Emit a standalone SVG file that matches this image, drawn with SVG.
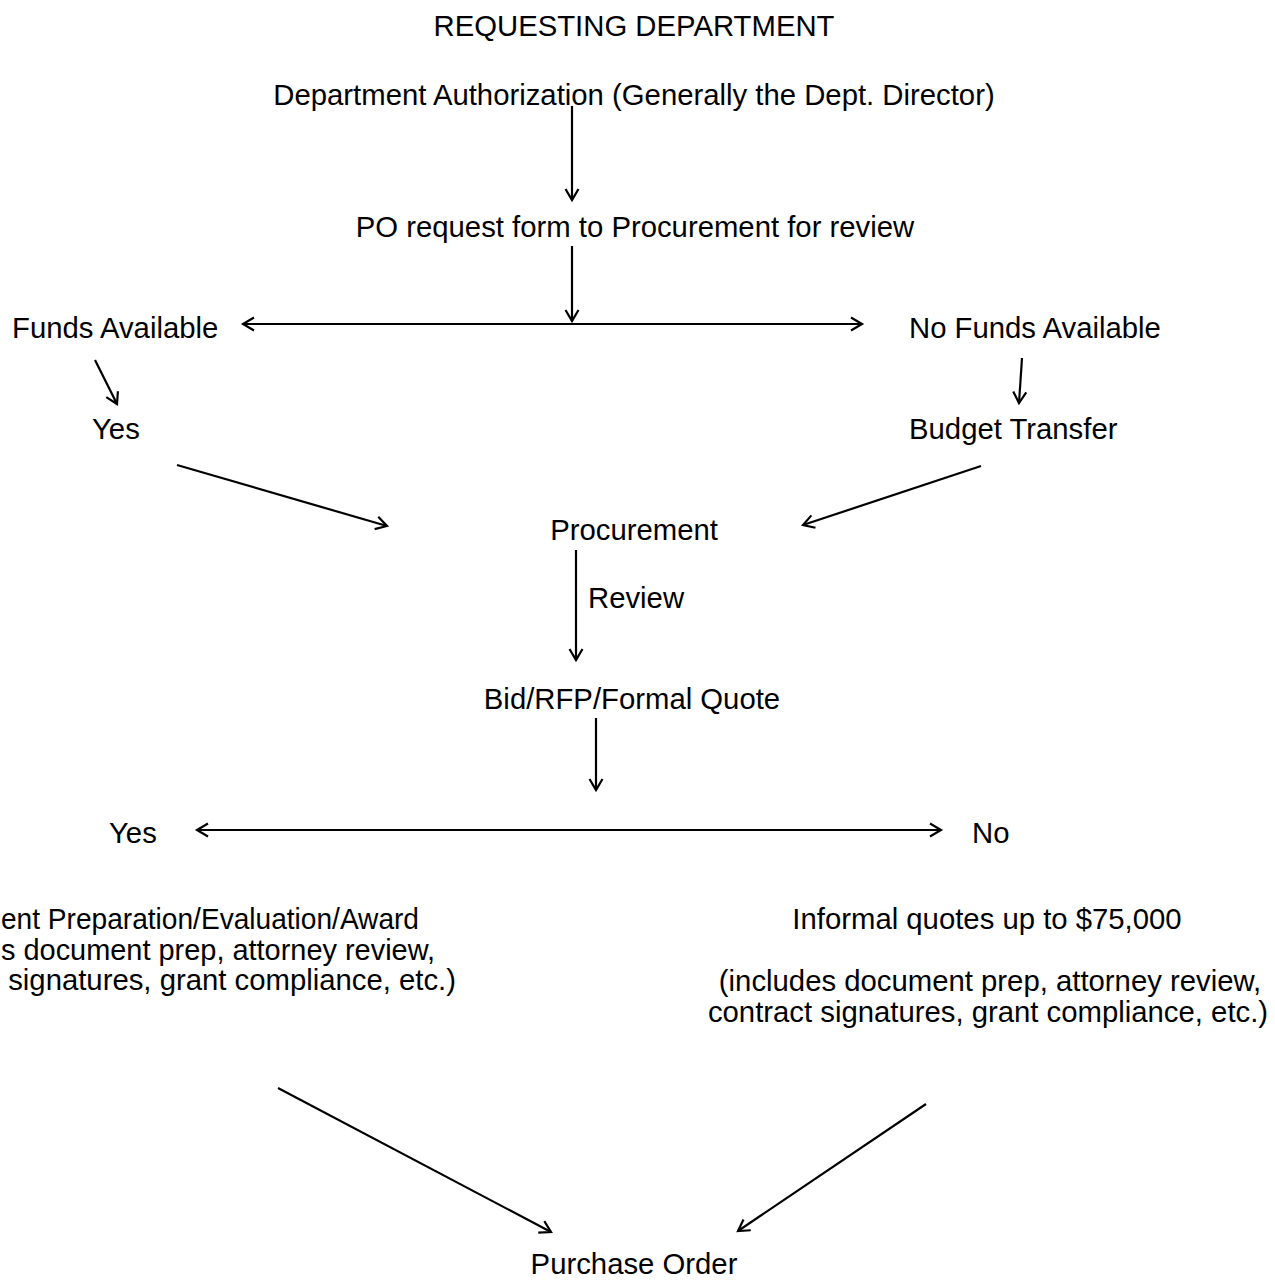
<svg xmlns="http://www.w3.org/2000/svg" width="1275" height="1284" viewBox="0 0 1275 1284">
<style>
text{font-family:"Liberation Sans",Arial,sans-serif;font-size:29.3px;fill:#000}
.c{text-anchor:middle}
.e{text-anchor:end}
.ln{stroke:#000;stroke-width:2.2;fill:none}
</style>
<defs>
<marker id="ah" markerWidth="16" markerHeight="16" refX="12" refY="8" orient="auto-start-reverse" markerUnits="userSpaceOnUse">
<path d="M1,1.5 L12,8 L1,14.5" fill="none" stroke="#000" stroke-width="2.2"/>
</marker>
</defs>
<rect width="1275" height="1284" fill="#fff"/>
<g id="n-title"><text class="c" x="634" y="36">REQUESTING DEPARTMENT</text></g>
<g id="n-auth"><text class="c" x="634" y="105">Department Authorization (Generally the Dept. Director)</text></g>
<g id="n-po"><text class="c" x="635" y="237">PO request form to Procurement for review</text></g>
<g id="n-funds"><text x="12" y="338">Funds Available</text></g>
<g id="n-nofunds"><text x="909" y="338">No Funds Available</text></g>
<g id="n-yes1"><text x="92" y="439">Yes</text></g>
<g id="n-budget"><text x="909" y="439">Budget Transfer</text></g>
<g id="n-proc"><text class="c" x="634" y="540">Procurement</text></g>
<g id="n-review"><text x="588" y="608">Review</text></g>
<g id="n-bid"><text class="c" x="632" y="709">Bid/RFP/Formal Quote</text></g>
<g id="n-yes2"><text x="109" y="843">Yes</text></g>
<g id="n-no"><text x="972" y="843">No</text></g>
<g id="n-doc">
<text x="1" y="929" textLength="418" lengthAdjust="spacingAndGlyphs">ent Preparation/Evaluation/Award</text>
<text x="1" y="960" textLength="434" lengthAdjust="spacingAndGlyphs">s document prep, attorney review,</text>
<text class="e" x="456" y="990">signatures, grant compliance, etc.)</text>
</g>
<g id="n-informal">
<text class="c" x="987" y="929">Informal quotes up to $75,000</text>
<text class="c" x="990" y="991">(includes document prep, attorney review,</text>
<text class="c" x="988" y="1022">contract signatures, grant compliance, etc.)</text>
</g>
<g id="n-po2"><text class="c" x="634" y="1274">Purchase Order</text></g>
<g id="connectors">
<line class="ln" x1="572" y1="106" x2="572" y2="200" marker-end="url(#ah)"/>
<line class="ln" x1="572" y1="246" x2="572" y2="321" marker-end="url(#ah)"/>
<line class="ln" x1="243" y1="324" x2="862" y2="324" marker-start="url(#ah)" marker-end="url(#ah)"/>
<line class="ln" x1="95" y1="360" x2="117" y2="404" marker-end="url(#ah)"/>
<line class="ln" x1="1022" y1="358" x2="1019" y2="403" marker-end="url(#ah)"/>
<line class="ln" x1="177" y1="465" x2="387" y2="526" marker-end="url(#ah)"/>
<line class="ln" x1="981" y1="466" x2="803" y2="525" marker-end="url(#ah)"/>
<line class="ln" x1="576" y1="550" x2="576" y2="660" marker-end="url(#ah)"/>
<line class="ln" x1="596" y1="718" x2="596" y2="790" marker-end="url(#ah)"/>
<line class="ln" x1="197" y1="830" x2="941" y2="830" marker-start="url(#ah)" marker-end="url(#ah)"/>
<line class="ln" x1="278" y1="1088" x2="551" y2="1232" marker-end="url(#ah)"/>
<line class="ln" x1="926" y1="1104" x2="738" y2="1231" marker-end="url(#ah)"/>
</g>
</svg>
